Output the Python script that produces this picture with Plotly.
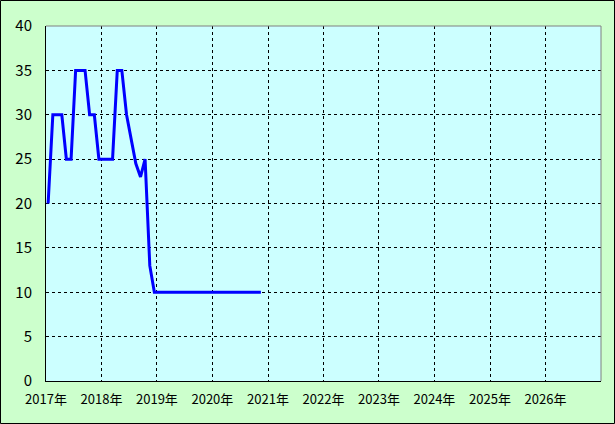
import plotly.graph_objects as go

months = (
    [f"2017-{m:02d}-15" for m in range(1, 13)]
    + [f"2018-{m:02d}-15" for m in range(1, 13)]
    + [f"2019-{m:02d}-15" for m in range(1, 13)]
    + [f"2020-{m:02d}-15" for m in range(1, 12)]
)
values = (
    [20, 30, 30, 30, 25, 25, 35, 35, 35, 30, 30, 25]
    + [25, 25, 25, 35, 35, 30, 27.5, 24.5, 23, 25, 13, 10]
    + [10] * 12
    + [10] * 11
)
year_ticks = [f"{y}-01-01" for y in range(2017, 2028)]
year_labels = [f"{y}年" for y in range(2017, 2027)] + [""]
y_ticks = [0, 5, 10, 15, 20, 25, 30, 35, 40]

W, H = 615, 424
L, R, T, B = 46, 14, 26, 43
pw, ph = W - L - R, H - T - B

fig = go.Figure()
fig.add_trace(go.Scatter(
    x=months, y=values, mode="lines",
    line=dict(color="#0000FF", width=3),
    hoverinfo="skip", showlegend=False,
))

font = dict(family="Noto Sans CJK JP, sans-serif", size=13, color="#000000")

fig.update_layout(
    width=W, height=H,
    margin=dict(l=L, r=R, t=T, b=B, pad=0, autoexpand=False),
    paper_bgcolor="#CCFFCC",
    plot_bgcolor="#CCFFFF",
    font=font,
    xaxis=dict(
        type="date",
        range=["2017-01-01", "2027-01-01"],
        tickvals=year_ticks, ticktext=year_labels,
        showgrid=True, gridcolor="#000000", gridwidth=1, griddash="3px,3px",
        showline=True, linecolor="#000000", linewidth=1,
        ticks="outside", ticklen=6, tickcolor="rgba(0,0,0,0)",
        tickfont=dict(size=13),
        zeroline=False, fixedrange=True, automargin=False,
    ),
    yaxis=dict(
        range=[0, 40],
        tickvals=y_ticks,
        showgrid=True, gridcolor="#000000", gridwidth=1, griddash="3px,3px",
        showline=True, linecolor="#000000", linewidth=1,
        ticks="outside", ticklen=10, tickcolor="rgba(0,0,0,0)",
        tickfont=dict(size=15),
        zeroline=False, fixedrange=True, automargin=False,
    ),
    shapes=[
        dict(type="line", xref="paper", yref="paper", x0=0, x1=1, y0=1, y1=1,
             line=dict(color="#808080", width=1), layer="above"),
        dict(type="line", xref="paper", yref="paper", x0=1, x1=1, y0=0, y1=1,
             line=dict(color="#808080", width=1), layer="above"),
        dict(type="rect", xref="paper", yref="paper",
             x0=(0.5 - L) / pw, x1=(W - 0.5 - L) / pw,
             y0=-(B - 0.5) / ph, y1=(ph + T - 0.5) / ph,
             line=dict(color="#000000", width=1), layer="above"),
    ],
)

fig.write_html("out.html", config={"displayModeBar": False})

with open("out.html", encoding="utf-8") as f:
    html = f.read()
html = html.replace("<head>", "<head><style>html,body{margin:0;padding:0;overflow:hidden;}</style>", 1)
with open("out.html", "w", encoding="utf-8") as f:
    f.write(html)
